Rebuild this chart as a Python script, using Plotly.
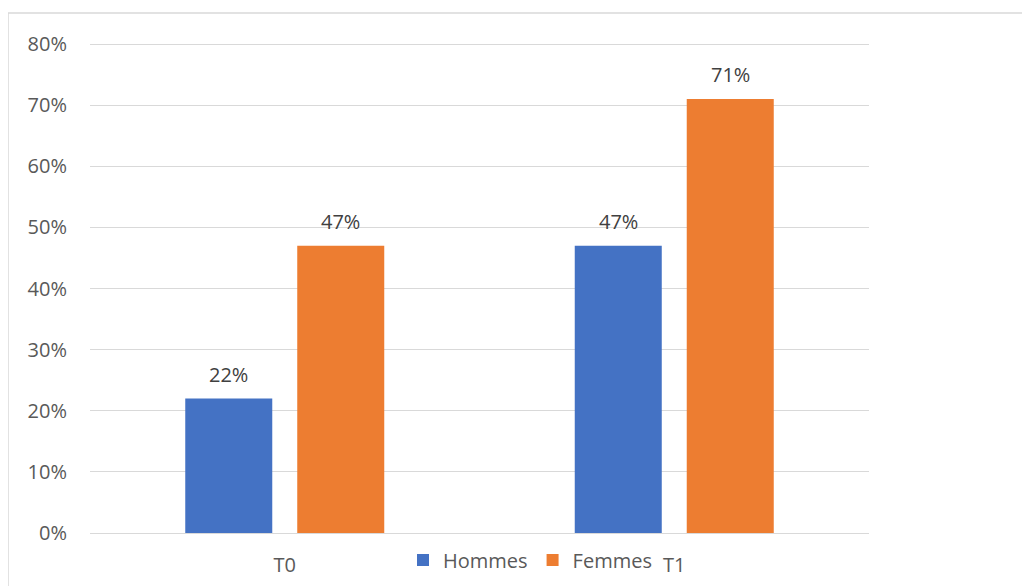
import plotly.graph_objects as go

categories = ["T0", "T1"]
hommes = [0.22, 0.47]
femmes = [0.47, 0.71]
series_names = ["Hommes", "Femmes"]
y_ticks = [0, 0.1, 0.2, 0.3, 0.4, 0.5, 0.6, 0.7, 0.8]
y_tick_labels = ["0%", "10%", "20%", "30%", "40%", "50%", "60%", "70%", "80%"]

colors = ["#4472C4", "#ED7D31"]
font_family = "Open Sans, Liberation Sans, sans-serif"
gray = "#595959"
label_gray = "#404040"
fs = 20

# page body has an 8px margin; compensate so figure pixels match the page
OFF = 8
W, H = 1030 - OFF, 586 - OFF
ml, mr, mt, mb = 90 - OFF, 1030 - 869, 41 - OFF, 586 - 533
pw, ph = W - ml - mr, H - mt - mb

def px_x(x):
    return (x - OFF - ml) / pw

def px_y(y):
    return 1 - (y - OFF - mt) / ph

fig = go.Figure()
for name, vals, col in zip(series_names, [hommes, femmes], colors):
    fig.add_trace(go.Bar(
        name=name, x=categories, y=vals, marker_color=col,
        marker_line_width=0,
    ))

# data labels above the bars (grouped offsets in pixels)
bar_offset_px = 56
for si, vals in enumerate([hommes, femmes]):
    for cat, v in zip(categories, vals):
        fig.add_annotation(
            x=cat, y=v, xref="x", yref="y",
            text=f"{round(v*100)}%", showarrow=False,
            yanchor="bottom", yshift=9,
            xshift=(-1 if si == 0 else 1) * bar_offset_px,
            font=dict(size=fs, color=label_gray, family=font_family),
        )

fig.update_layout(
    width=W, height=H,
    margin=dict(l=ml, r=mr, t=mt, b=mb, autoexpand=False),
    paper_bgcolor="white", plot_bgcolor="white",
    barmode="group", bargap=0.425, bargroupgap=0.223,
    font=dict(family=font_family, color=gray, size=fs),
    showlegend=True,
    legend=dict(orientation="h", x=px_x(530), xanchor="center",
                y=px_y(560), yanchor="middle",
                font=dict(size=fs, color=gray, family=font_family),
                itemwidth=30, traceorder="normal", bgcolor="rgba(0,0,0,0)"),
    xaxis=dict(showgrid=False, showline=True, linecolor="#D9D9D9", linewidth=1,
               ticks="", tickfont=dict(size=fs, color=gray),
               ticklabelstandoff=14),
    yaxis=dict(range=[0, 0.805], tickvals=y_ticks, ticktext=y_tick_labels,
               showgrid=True, gridcolor="#D9D9D9", gridwidth=1,
               zeroline=False, showline=False, ticks="",
               tickfont=dict(size=fs, color=gray), ticklabelstandoff=22),
    shapes=[dict(type="rect", xref="paper", yref="paper",
                 x0=px_x(8), x1=px_x(1045), y0=px_y(600), y1=px_y(13),
                 line=dict(color="#D9D9D9", width=1.5), fillcolor="rgba(0,0,0,0)",
                 layer="below")],
)

fig.write_html("out.html")
